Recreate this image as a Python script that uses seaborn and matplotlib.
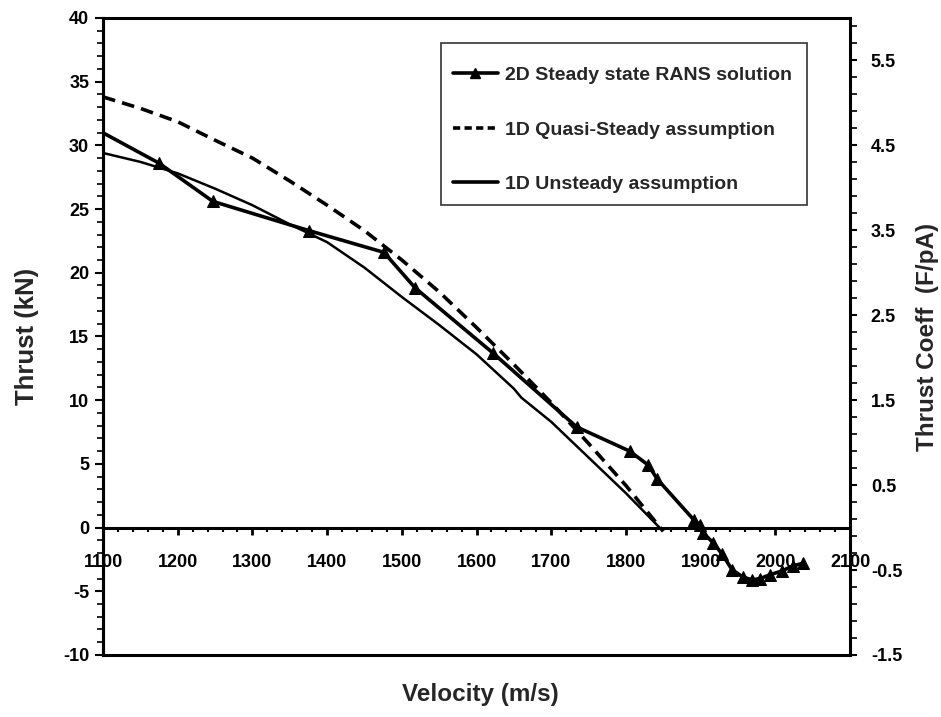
import numpy as np
import pandas as pd
import matplotlib
matplotlib.use("Agg")
import matplotlib.pyplot as plt
from matplotlib.ticker import MultipleLocator, FixedLocator, FixedFormatter
from matplotlib.lines import Line2D
from matplotlib.patches import Rectangle
import seaborn as sns

# ---- data ----
rans_x = [1090, 1175, 1247, 1376, 1476, 1518, 1622, 1734, 1805, 1830, 1842,
          1891, 1899, 1903, 1917, 1929, 1942, 1957, 1969, 1980, 1993, 2009, 2024, 2037]
rans_y = [31.3, 28.6, 25.6, 23.3, 21.6, 18.8, 13.7, 7.9, 6.0, 4.9, 3.8,
          0.6, 0.2, -0.4, -1.2, -2.1, -3.3, -3.9, -4.1, -4.0, -3.7, -3.4, -3.0, -2.8]

qs_x = [1100, 1150, 1200, 1250, 1300, 1350, 1400, 1450, 1500, 1550, 1600,
        1650, 1700, 1750, 1800, 1850]
qs_y = [33.8, 32.9, 31.85, 30.4, 29.0, 27.2, 25.3, 23.3, 21.0, 18.5, 15.7,
        12.8, 9.8, 6.6, 3.3, -0.3]

us_x = [1100, 1150, 1200, 1250, 1300, 1350, 1400, 1450, 1500, 1550, 1600,
        1650, 1660, 1700, 1750, 1800, 1845]
us_y = [29.4, 28.7, 27.8, 26.6, 25.3, 23.8, 22.4, 20.4, 18.1, 15.9, 13.6,
        10.9, 10.2, 8.3, 5.5, 2.7, 0.0]

labels = ["2D Steady state RANS solution", "1D Quasi-Steady assumption",
          "1D Unsteady assumption"]

x_ticks = [1100, 1200, 1300, 1400, 1500, 1600, 1700, 1800, 1900, 2000, 2100]
y_ticks = [-10, -5, 0, 5, 10, 15, 20, 25, 30, 35, 40]
y2_ticks = [-1.5, -0.5, 0.5, 1.5, 2.5, 3.5, 4.5, 5.5]
coeff_scale = 0.15  # thrust coefficient per kN

# ---- style ----
sns.set_theme(style="ticks")
plt.rcParams["font.family"] = ["Liberation Sans", "DejaVu Sans"]
plt.rcParams["font.weight"] = "bold"
plt.rcParams["axes.unicode_minus"] = False

fig = plt.figure(figsize=(9.41, 7.17), dpi=100)
ax = fig.add_axes([0.1095, 0.0865, 0.7938, 0.8885])

df_r = pd.DataFrame({"x": rans_x, "y": rans_y})
df_q = pd.DataFrame({"x": qs_x, "y": qs_y})
df_u = pd.DataFrame({"x": us_x, "y": us_y})

sns.lineplot(data=df_r, x="x", y="y", ax=ax, color="black", lw=2.6,
             marker="^", markersize=8.5, markeredgecolor="black", sort=False,
             zorder=4)
sns.lineplot(data=df_q, x="x", y="y", ax=ax, color="black", lw=2.6,
             sort=False, zorder=4)
ax.lines[-1].set_dashes([3.5, 2.0])
sns.lineplot(data=df_u, x="x", y="y", ax=ax, color="black", lw=1.8,
             sort=False, zorder=4)

ax.set_xlim(1100, 2100)
ax.set_ylim(-10, 40)
ax.xaxis.set_major_locator(FixedLocator(x_ticks))
ax.xaxis.set_minor_locator(MultipleLocator(20))
ax.yaxis.set_major_locator(FixedLocator(y_ticks))
ax.yaxis.set_minor_locator(MultipleLocator(1))

ax.spines["bottom"].set_position(("data", 0))
for s in ["top", "right"]:
    ax.spines[s].set_visible(False)
for s in ["left", "bottom"]:
    ax.spines[s].set_linewidth(2.2)
    ax.spines[s].set_color("black")

ax.tick_params(axis="x", which="major", direction="out", length=5, width=2,
               pad=14, labelsize=13, colors="black")
ax.tick_params(axis="x", which="minor", direction="out", length=3, width=1.5,
               colors="black")
ax.tick_params(axis="y", which="major", direction="out", length=6, width=1.5,
               pad=4, labelsize=13, colors="black")
ax.tick_params(axis="y", which="minor", direction="out", length=4, width=1.2,
               colors="black")
for t in ax.get_xticklabels() + ax.get_yticklabels():
    t.set_fontweight("bold")

ax.set_xlabel("")
ax.set_ylabel("Thrust (kN)", fontsize=18.5, fontweight="bold", va="center")
ax.yaxis.set_label_coords(-0.102, 0.5)
fig.text(0.511, 0.031, "Velocity (m/s)", fontsize=17.5, fontweight="bold",
         ha="center", va="center")

ax2 = ax.twinx()
ax2.set_ylim(-10 * coeff_scale, 40 * coeff_scale)
ax2.yaxis.set_major_locator(FixedLocator(y2_ticks))
ax2.yaxis.set_minor_locator(FixedLocator(list(np.round(np.arange(-1.5, 6.01, 0.2), 2))))
ax2.yaxis.set_major_formatter(FixedFormatter([f"{v:g}" for v in y2_ticks]))
for s in ["top", "right", "bottom", "left"]:
    ax2.spines[s].set_linewidth(2.2)
    ax2.spines[s].set_color("black")
ax2.tick_params(axis="y", which="major", direction="out", length=5, width=1.5,
                pad=10, labelsize=13, colors="black")
ax2.tick_params(axis="y", which="minor", direction="out", length=5, width=1.2,
                colors="black")
for t in ax2.get_yticklabels():
    t.set_fontweight("bold")
ax2.set_ylabel("Thrust Coeff  (F/pA)", fontsize=17.5, fontweight="bold",
               va="center")
ax2.yaxis.set_label_coords(1.104, 0.5)

# legend frame (box) and entries
ax2.add_patch(Rectangle((0.4525, 0.7064), 0.4900, 0.2543,
                        transform=ax2.transAxes, fill=True, facecolor="white",
                        edgecolor="#333333", lw=1.2, zorder=5))
handles = [
    Line2D([], [], color="black", lw=2.6, marker="^", markersize=7),
    Line2D([], [], color="black", lw=2.6, dashes=[2.0, 1.2]),
    Line2D([], [], color="black", lw=2.6),
]
leg = ax2.legend(handles, labels, loc="upper left",
                 bbox_to_anchor=(0.4685, 0.924), borderaxespad=0,
                 frameon=False, prop={"weight": "bold", "size": 14},
                 handlelength=2.3, handletextpad=0.35, labelspacing=1.9,
                 borderpad=0)
leg.set_zorder(6)

fig.savefig("out.png", dpi=100)
